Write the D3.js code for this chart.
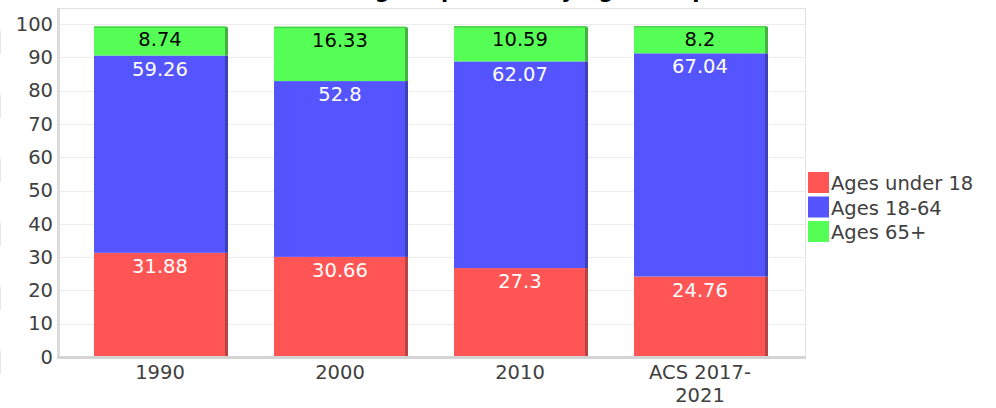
<!DOCTYPE html>
<html><head><meta charset="utf-8">
<script src="https://cdn.jsdelivr.net/npm/d3@7"></script>
<style>body{margin:0;background:#fff;}svg{display:block;font-family:"DejaVu Sans",sans-serif;}</style>
</head><body>
<svg id="c" width="996" height="408"></svg>
<script>
const categories = ["1990", "2000", "2010", "ACS 2017-2021"];
const categoryLines = [["1990"], ["2000"], ["2010"], ["ACS 2017-", "2021"]];
const seriesNames = ["Ages under 18", "Ages 18-64", "Ages 65+"];
const under18 = [31.88, 30.66, 27.3, 24.76];
const age18to64 = [59.26, 52.8, 62.07, 67.04];
const age65plus = [8.74, 16.33, 10.59, 8.2];
const yTicks = [0, 10, 20, 30, 40, 50, 60, 70, 80, 90, 100];
const title = "Percentage Population by Age Group";

const colors = ["#ff5555", "#5555ff", "#55ff55"];
const shades = ["#b84545", "#3f3fb8", "#45b045"];
const labelColors = ["#ffffff", "#ffffff", "#000000"];
const FS = 19.5;

const svg = d3.select("#c");
const L = 58, R = 806, T = 8, B = 357;
const x = d3.scaleBand().domain(categories).range([70, 790]).paddingInner(48/180).paddingOuter(24/180);
const y = d3.scaleLinear().domain([0, 100]).range([B, 24]);

// faint dashed line at far left
svg.append("line").attr("x1", 0.5).attr("x2", 0.5).attr("y1", 31).attr("y2", 384)
  .attr("stroke", "#e6e6e6").attr("stroke-dasharray", "23,41");

// title (clipped at the top edge, as in the reference)
svg.append("text").attr("x", 488).attr("y", -2).attr("text-anchor", "middle")
  .attr("font-size", 21).attr("font-weight", "bold").attr("fill", "#000").text(title);

// plot frame
svg.append("rect").attr("x", L + 0.5).attr("y", T + 0.5).attr("width", R - L - 1).attr("height", B - T)
  .attr("fill", "none").attr("stroke", "#e2e2e2");

// gridlines
svg.append("g").selectAll("line").data(yTicks).join("line")
  .attr("x1", L).attr("x2", R).attr("y1", d => Math.round(y(d)) + 0.5).attr("y2", d => Math.round(y(d)) + 0.5)
  .attr("stroke", "#ececec");

// left axis line
svg.append("rect").attr("x", L - 1).attr("y", T).attr("width", 3).attr("height", B - T + 2).attr("fill", "#dcdcdc");

// y axis labels
const yAxis = d3.axisLeft(y).tickValues(yTicks).tickSize(0).tickPadding(5);
const ya = svg.append("g").attr("transform", `translate(${L},0)`).call(yAxis);
ya.select(".domain").remove();
ya.selectAll("text").attr("font-size", FS).attr("fill", "#404040").attr("font-family", "DejaVu Sans");

// stacked data
const rows = categories.map((c, i) => ({cat: c, v: [under18[i], age18to64[i], age65plus[i]]}));
const segs = [];
rows.forEach(r => {
  let acc = 0;
  r.v.forEach((v, s) => { segs.push({cat: r.cat, s, v, y0: acc, y1: acc + v}); acc += v; });
});

const bw = x.bandwidth();
const g = svg.append("g").attr("transform", "translate(0,2)");
g.selectAll("rect.sh").data(segs).join("rect").attr("class", "sh")
  .attr("x", d => x(d.cat) + bw - 1).attr("width", 3)
  .attr("y", d => y(d.y1) + (d.s === 2 ? 1 : 0)).attr("height", d => y(d.y0) - y(d.y1) - (d.s === 2 ? 1 : 0))
  .attr("fill", d => shades[d.s]);
g.selectAll("rect.seg").data(segs).join("rect").attr("class", "seg")
  .attr("x", d => x(d.cat)).attr("width", bw - 1)
  .attr("y", d => y(d.y1)).attr("height", d => y(d.y0) - y(d.y1))
  .attr("fill", d => colors[d.s]);
g.selectAll("rect.top").data(segs.filter(d => d.s === 2)).join("rect").attr("class", "top")
  .attr("x", d => x(d.cat)).attr("width", bw + 1)
  .attr("y", d => y(d.y1)).attr("height", 1.5).attr("fill", "#4ad24a");

// labels
g.selectAll("text.lab").data(segs).join("text").attr("class", "lab")
  .attr("x", d => x(d.cat) + bw / 2).attr("y", d => y(d.y1) + 20)
  .attr("text-anchor", "middle").attr("font-size", FS).attr("fill", d => labelColors[d.s])
  .text(d => d.v);

// bottom axis line (drawn over bar bottoms)
svg.append("rect").attr("x", L - 1).attr("y", B - 1).attr("width", R - L + 1).attr("height", 3).attr("fill", "#d4d4d4");
svg.append("rect").attr("x", L - 1).attr("y", B + 2).attr("width", R - L + 1).attr("height", 3).attr("fill", "#ffffff");

// x labels
const xl = svg.append("g").selectAll("text").data(categories).join("text")
  .attr("x", d => x(d) + bw / 2).attr("y", 379).attr("text-anchor", "middle")
  .attr("font-size", FS).attr("fill", "#404040");
xl.each(function(d, i) {
  d3.select(this).selectAll("tspan").data(categoryLines[i]).join("tspan")
    .attr("x", x(d) + bw / 2).attr("dy", (t, j) => j === 0 ? 0 : 23).text(t => t);
});

// legend
const lg = svg.append("g").selectAll("g").data(seriesNames).join("g")
  .attr("transform", (d, i) => `translate(808,${172 + i * 24.5})`);
lg.append("rect").attr("width", 21).attr("height", 21).attr("fill", (d, i) => colors[i]);
lg.append("text").attr("x", 23).attr("y", 18).attr("font-size", FS).attr("fill", "#404040").text(d => d);
</script>
</body></html>
